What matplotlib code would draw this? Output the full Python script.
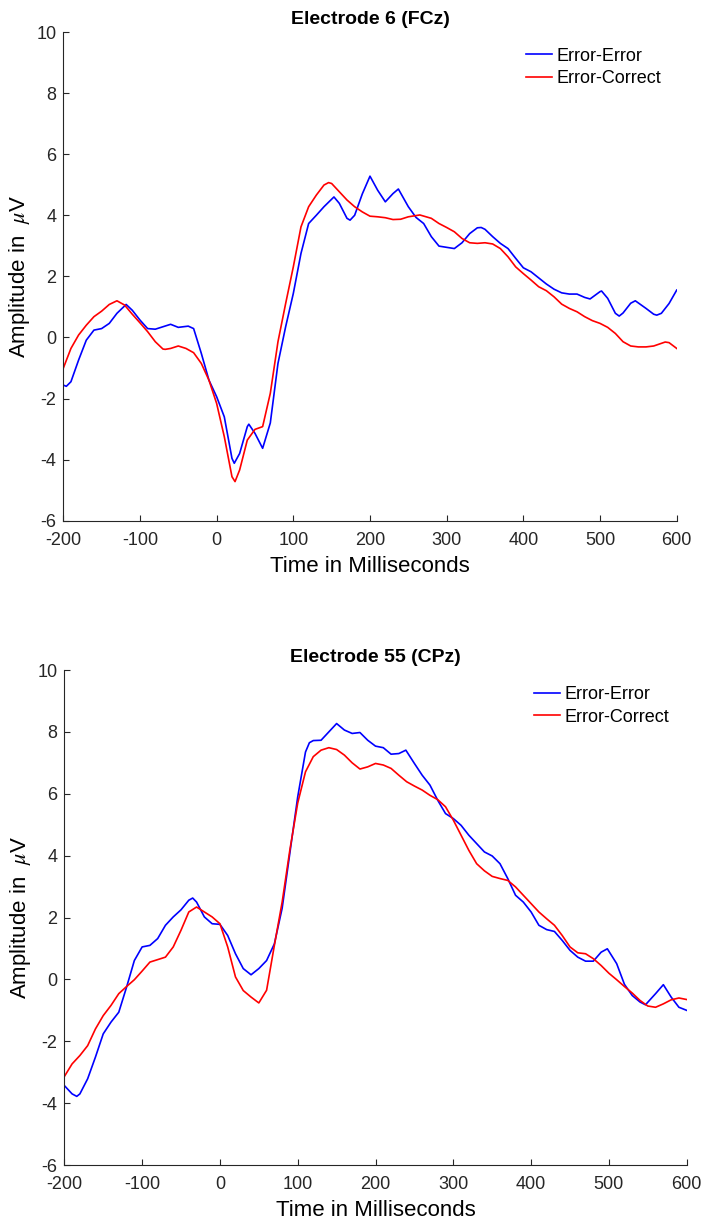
import matplotlib
matplotlib.use("Agg")
import matplotlib.pyplot as plt

plt.rcParams['font.family'] = ['Liberation Sans', 'DejaVu Sans']
plt.rcParams['axes.unicode_minus'] = False
plt.rcParams['mathtext.fontset'] = 'stix'

# ---------------- data ----------------
x_ticks = [-200, -100, 0, 100, 200, 300, 400, 500, 600]
y_ticks = [-6, -4, -2, 0, 2, 4, 6, 8, 10]
legend_labels = ["Error-Error", "Error-Correct"]
titles = ["Electrode 6 (FCz)", "Electrode 55 (CPz)"]

# Electrode 6 (FCz), Error-Error
fcz_ee_t = [-200, -196, -190, -180, -170, -160, -150, -140, -130, -118, -110, -100, -90, -80, -70, -60, -50, -37, -30,
            -20, -10, 0, 10, 20, 23, 30, 40, 42, 50, 60, 70, 80, 90, 100, 110, 120, 130, 140, 153, 160, 170, 174, 180,
            190, 200, 210, 220, 230, 237, 250, 260, 270, 280, 290, 300, 310, 320, 330, 340, 345, 350, 360, 370, 380,
            390, 400, 410, 420, 430, 440, 450, 460, 470, 480, 487, 500, 502, 510, 520, 525, 530, 540, 546, 560, 570,
            574, 580, 590, 600]
fcz_ee_v = [-1.56, -1.60, -1.45, -0.74, -0.09, 0.24, 0.29, 0.46, 0.79, 1.08, 0.89, 0.57, 0.29, 0.27, 0.35, 0.43, 0.33,
            0.37, 0.29, -0.52, -1.40, -1.94, -2.60, -3.96, -4.12, -3.80, -2.92, -2.84, -3.14, -3.63, -2.80, -0.85, 0.35,
            1.44, 2.75, 3.73, 4.00, 4.28, 4.60, 4.39, 3.90, 3.84, 4.00, 4.70, 5.28, 4.82, 4.44, 4.71, 4.86, 4.28, 3.93,
            3.73, 3.30, 2.99, 2.95, 2.91, 3.10, 3.40, 3.59, 3.60, 3.54, 3.30, 3.08, 2.91, 2.59, 2.28, 2.15, 1.95, 1.75,
            1.58, 1.46, 1.42, 1.42, 1.31, 1.26, 1.50, 1.52, 1.28, 0.79, 0.70, 0.80, 1.12, 1.20, 0.95, 0.76, 0.73, 0.79,
            1.11, 1.55]

# Electrode 6 (FCz), Error-Correct
fcz_ec_t = [-200, -190, -180, -170, -160, -150, -140, -130, -120, -110, -100, -90, -80, -70, -67, -60, -50, -40, -30,
            -20, -10, 0, 10, 20, 24, 30, 40, 50, 60, 70, 80, 90, 100, 110, 120, 130, 140, 146, 150, 160, 170, 180, 190,
            200, 210, 220, 230, 240, 250, 265, 280, 290, 300, 310, 320, 330, 340, 350, 360, 370, 380, 390, 400, 410,
            420, 430, 440, 450, 460, 470, 480, 490, 500, 510, 520, 530, 540, 550, 560, 570, 585, 590, 600]
fcz_ec_v = [-1.01, -0.36, 0.08, 0.40, 0.68, 0.86, 1.08, 1.20, 1.06, 0.76, 0.48, 0.19, -0.14, -0.38, -0.39, -0.36,
            -0.28, -0.36, -0.50, -0.85, -1.40, -2.16, -3.25, -4.56, -4.72, -4.34, -3.36, -3.01, -2.92, -1.83, -0.14,
            1.11, 2.31, 3.62, 4.28, 4.66, 4.99, 5.07, 5.04, 4.77, 4.50, 4.28, 4.11, 3.97, 3.95, 3.92, 3.86, 3.87, 3.95,
            4.01, 3.90, 3.73, 3.60, 3.46, 3.24, 3.10, 3.08, 3.10, 3.06, 2.91, 2.64, 2.31, 2.09, 1.88, 1.66, 1.53, 1.33,
            1.09, 0.95, 0.84, 0.68, 0.55, 0.46, 0.33, 0.13, -0.14, -0.28, -0.31, -0.31, -0.28, -0.15, -0.17, -0.36]

# Electrode 55 (CPz), Error-Error
cpz_ee_t = [-200, -190, -184, -180, -170, -160, -150, -140, -130, -120, -110, -100, -90, -80, -70, -60, -50, -40, -35,
            -30, -20, -10, 0, 10, 20, 30, 40, 50, 60, 70, 80, 90, 100, 110, 115, 120, 130, 140, 150, 160, 170, 180, 190,
            200, 210, 220, 230, 239, 250, 260, 270, 280, 290, 300, 310, 320, 330, 340, 350, 360, 370, 380, 390, 400,
            410, 420, 430, 440, 450, 460, 470, 480, 490, 498, 510, 520, 530, 540, 547, 560, 570, 580, 590, 600]
cpz_ee_v = [-3.43, -3.70, -3.78, -3.70, -3.21, -2.51, -1.76, -1.38, -1.06, -0.25, 0.61, 1.05, 1.10, 1.32, 1.75, 2.02,
            2.25, 2.56, 2.63, 2.50, 2.02, 1.80, 1.78, 1.42, 0.83, 0.35, 0.15, 0.35, 0.61, 1.15, 2.30, 4.10, 5.90, 7.35,
            7.65, 7.72, 7.73, 8.00, 8.27, 8.06, 7.95, 7.98, 7.73, 7.54, 7.49, 7.28, 7.30, 7.41, 6.98, 6.60, 6.28, 5.79,
            5.36, 5.20, 4.98, 4.66, 4.39, 4.12, 3.99, 3.74, 3.26, 2.72, 2.50, 2.18, 1.75, 1.61, 1.55, 1.26, 0.94, 0.72,
            0.59, 0.59, 0.88, 0.99, 0.51, -0.16, -0.52, -0.73, -0.82, -0.46, -0.17, -0.57, -0.90, -1.00]

# Electrode 55 (CPz), Error-Correct
cpz_ec_t = [-200, -190, -180, -170, -160, -150, -140, -130, -120, -110, -100, -90, -80, -70, -60, -50, -40, -30, -20,
            -10, 0, 10, 20, 30, 40, 50, 60, 70, 80, 90, 100, 110, 120, 130, 140, 150, 160, 170, 180, 190, 200, 210, 220,
            230, 240, 250, 260, 270, 280, 290, 300, 310, 320, 330, 340, 350, 360, 370, 380, 390, 400, 410, 420, 430,
            440, 450, 460, 470, 480, 490, 500, 510, 520, 530, 540, 550, 560, 570, 580, 590, 600]
cpz_ec_v = [-3.14, -2.73, -2.46, -2.14, -1.60, -1.17, -0.84, -0.46, -0.23, -0.01, 0.27, 0.56, 0.64, 0.72, 1.05, 1.59,
            2.18, 2.34, 2.18, 2.02, 1.80, 1.05, 0.08, -0.36, -0.57, -0.76, -0.35, 1.10, 2.50, 4.20, 5.70, 6.71, 7.20,
            7.41, 7.49, 7.43, 7.25, 7.00, 6.80, 6.87, 6.98, 6.93, 6.82, 6.60, 6.39, 6.25, 6.12, 5.95, 5.81, 5.58, 5.15,
            4.66, 4.17, 3.74, 3.51, 3.33, 3.26, 3.20, 2.99, 2.72, 2.45, 2.18, 1.96, 1.75, 1.42, 1.05, 0.86, 0.83, 0.67,
            0.45, 0.20, -0.01, -0.23, -0.44, -0.68, -0.86, -0.90, -0.79, -0.66, -0.60, -0.65]

panels = [
    (titles[0], fcz_ee_t, fcz_ee_v, fcz_ec_t, fcz_ec_v),
    (titles[1], cpz_ee_t, cpz_ee_v, cpz_ec_t, cpz_ec_v),
]

# ---------------- figure ----------------
fig = plt.figure(figsize=(7.03, 12.22), dpi=100)
rects = [[0.0900, 0.5739, 0.8726, 0.3999], [0.0915, 0.0466, 0.8853, 0.4051]]
axis_col = '#262626'

for rect, (title, t1, v1, t2, v2) in zip(rects, panels):
    ax = fig.add_axes(rect)
    ax.plot(t1, v1, color=(0, 0, 1), lw=1.2, label=legend_labels[0], solid_joinstyle='round')
    ax.plot(t2, v2, color=(1, 0, 0), lw=1.2, label=legend_labels[1], solid_joinstyle='round')
    ax.set_xlim(-200, 600)
    ax.set_ylim(-6, 10)
    ax.set_xticks(x_ticks)
    ax.set_yticks(y_ticks)
    for s in ['top', 'right']:
        ax.spines[s].set_visible(False)
    for s in ['left', 'bottom']:
        ax.spines[s].set_color(axis_col)
        ax.spines[s].set_linewidth(0.8)
    ax.tick_params(axis='both', direction='in', length=4, width=0.8, colors=axis_col,
                   labelsize=13, labelcolor=axis_col)
    ax.tick_params(axis='x', pad=8)
    ax.tick_params(axis='y', pad=5)
    ax.set_xlabel("Time in Milliseconds", fontsize=16, color='black', labelpad=5)
    ax.set_ylabel("Amplitude in  $\\mu$V", fontsize=16, color='black', labelpad=3)
    ax.set_title(title, fontsize=14, fontweight='bold', pad=6)
    ax.legend(loc='upper left', bbox_to_anchor=(0.754, 0.968), frameon=False, fontsize=13,
              handlelength=1.45, handletextpad=0.25, borderpad=0, borderaxespad=0, labelspacing=0.32)

fig.savefig("out.png", dpi=100)
